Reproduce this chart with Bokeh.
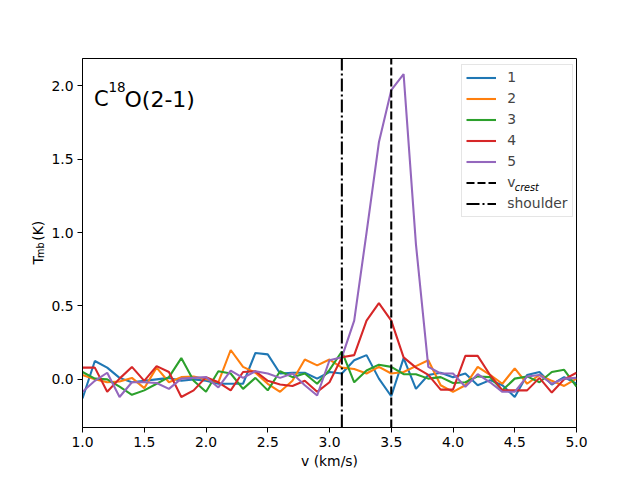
import math
from bokeh.plotting import figure
from bokeh.layouts import row
from bokeh.models import Range1d, FixedTicker, PrintfTickFormatter, Legend, LegendItem, Label
from bokeh.embed import file_html
from bokeh.resources import INLINE

# ---- data ----
velocity = [1.0, 1.1, 1.2, 1.3, 1.4, 1.5, 1.6, 1.7, 1.8, 1.9,
            2.0, 2.1, 2.2, 2.3, 2.4, 2.5, 2.6, 2.7, 2.8, 2.9,
            3.0, 3.1, 3.2, 3.3, 3.4, 3.5, 3.6, 3.7, 3.8, 3.9,
            4.0, 4.1, 4.2, 4.3, 4.4, 4.5, 4.6, 4.7, 4.8, 4.9, 5.0]

spec1 = [-0.13, 0.125, 0.08, 0.01, -0.02, -0.01, 0.0, 0.01, -0.01, 0.0,
         -0.01, -0.03, -0.03, -0.03, 0.18, 0.17, 0.04, 0.045, 0.045, 0.005,
         0.05, 0.04, 0.13, 0.165, 0.005, -0.115, 0.145, -0.065, 0.03, 0.045,
         0.015, 0.04, -0.04, -0.005, -0.04, -0.12, 0.03, 0.05, -0.035, 0.015, -0.03]
spec2 = [0.03, 0.0, -0.02, -0.015, 0.01, -0.06, 0.08, -0.02, 0.015, 0.02,
         0.0, -0.02, 0.2, 0.085, 0.045, -0.03, -0.085, -0.01, 0.135, 0.095,
         0.135, 0.08, 0.07, 0.04, 0.085, 0.04, 0.05, 0.09, 0.13, -0.04,
         -0.085, -0.04, 0.085, 0.03, -0.03, 0.075, -0.03, 0.03, -0.01, -0.045, 0.005]
spec3 = [0.05, 0.005, 0.0, -0.05, -0.105, -0.075, -0.03, 0.015, 0.145, -0.01,
         -0.085, 0.055, 0.04, -0.065, 0.01, -0.075, 0.055, 0.015, 0.04, -0.03,
         0.065, 0.19, -0.02, 0.06, 0.10, 0.085, 0.035, 0.035, 0.005, 0.015,
         -0.025, -0.02, 0.02, 0.015, -0.075, 0.005, 0.02, -0.02, 0.05, 0.065, -0.05]
spec4 = [0.08, 0.08, -0.085, 0.005, 0.085, -0.01, 0.09, 0.05, -0.12, -0.075,
         0.015, -0.02, -0.075, 0.05, 0.055, -0.01, -0.035, -0.045, -0.01, -0.085,
         -0.02, 0.15, 0.165, 0.40, 0.52, 0.40, 0.15, 0.08, 0.03, -0.07,
         -0.07, 0.16, 0.16, 0.03, -0.075, -0.075, -0.075, 0.01, -0.09, 0.0, 0.045]
spec5 = [-0.085, -0.01, 0.045, -0.12, -0.02, -0.02, -0.025, -0.065, 0.005, 0.01,
         0.015, -0.055, 0.06, 0.01, 0.055, 0.04, 0.01, 0.04, -0.04, -0.11,
         0.13, 0.15, 0.40, 1.0, 1.615, 1.97, 2.08, 0.92, 0.085, 0.04,
         0.04, -0.05, 0.035, -0.02, -0.085, -0.085, 0.02, 0.03, -0.03, 0.005, 0.01]

series_names = ["1", "2", "3", "4", "5"]
series_colors = ["#1f77b4", "#ff7f0e", "#2ca02c", "#d62728", "#9467bd"]
v_crest = 3.5
v_shoulder = 3.1

x_ticks = [1.0, 1.5, 2.0, 2.5, 3.0, 3.5, 4.0, 4.5, 5.0]
y_ticks = [0.0, 0.5, 1.0, 1.5, 2.0]
x_lim = (1.0, 5.0)
y_lim = (-0.328, 2.186)

FONT = "DejaVu Sans"
W, H = 640, 480
LEFT_W = 48

# ---- left strip holding the y-axis title T_mb (K) ----
lab = figure(width=LEFT_W, height=H, output_backend="svg", toolbar_location=None,
             x_range=Range1d(0, LEFT_W), y_range=Range1d(0, H),
             x_axis_location=None, y_axis_location=None, min_border=0)
lab.grid.visible = False
lab.outline_line_color = None
lab.background_fill_color = "white"
lab.border_fill_color = "white"
lab.add_layout(Label(x=37.3, y=212, text="T", angle=math.pi / 2, text_font=FONT,
                     text_font_size="13.9px", text_baseline="alphabetic", text_color="black"))
lab.add_layout(Label(x=40.0, y=220.5, text="mb", angle=math.pi / 2, text_font=FONT,
                     text_font_size="9.7px", text_baseline="alphabetic", text_color="black"))
lab.add_layout(Label(x=37.3, y=243.0, text="(K)", angle=math.pi / 2, text_font=FONT,
                     text_font_size="13.9px", text_baseline="alphabetic", text_color="black"))

# ---- main plot ----
p = figure(width=W - LEFT_W, height=H, output_backend="svg", toolbar_location=None,
           x_range=Range1d(*x_lim), y_range=Range1d(*y_lim),
           min_border_left=80 - LEFT_W, min_border_right=64, min_border_top=58, min_border_bottom=53)
p.grid.visible = False
p.outline_line_color = "black"
p.outline_line_width = 1
p.background_fill_color = "white"
p.border_fill_color = "white"

for ax, ticks in ((p.xaxis, x_ticks), (p.yaxis, y_ticks)):
    ax.ticker = FixedTicker(ticks=ticks)
    ax.formatter = PrintfTickFormatter(format="%.1f")
    ax.major_label_text_font = FONT
    ax.major_label_text_font_size = "13.9px"
    ax.major_label_text_color = "black"
    ax.major_tick_out = 5
    ax.major_tick_in = 0
    ax.minor_tick_out = 0
    ax.minor_tick_in = 0
    ax.axis_line_color = "black"
    ax.major_tick_line_color = "black"
    ax.major_label_standoff = 4

p.xaxis.axis_label = "v (km/s)"
p.xaxis.axis_label_text_font = FONT
p.xaxis.axis_label_text_font_size = "13.9px"
p.xaxis.axis_label_text_font_style = "normal"
p.xaxis.axis_label_text_color = "black"
p.xaxis.axis_label_standoff = 3

all_specs = [spec1, spec2, spec3, spec4, spec5]
items = []
for name, color, spec in zip(series_names, series_colors, all_specs):
    r = p.line(velocity, spec, line_color=color, line_width=2.08)
    items.append(LegendItem(label=name, renderers=[r]))

r_crest = p.ray(x=[v_crest], y=[y_lim[0]], length=0, angle=90, angle_units="deg",
                line_color="black", line_width=2.08, line_dash="8 3")
r_sh = p.ray(x=[v_shoulder], y=[y_lim[0]], length=0, angle=90, angle_units="deg",
             line_color="black", line_width=2.08, line_dash="13 3 2 3")
items.append(LegendItem(label="v", renderers=[r_crest]))
items.append(LegendItem(label="shoulder", renderers=[r_sh]))

legend = Legend(items=items, location=(379.3, 210.3), margin=0, padding=4,
                spacing=4, glyph_width=30, glyph_height=17, label_height=17,
                label_standoff=11, label_text_font=FONT, label_text_font_size="13.9px",
                border_line_color="#cccccc", border_line_width=1,
                background_fill_color="white", background_fill_alpha=0.0)
p.add_layout(legend)

# subscript of v_crest in legend
p.add_layout(Label(x=432.3, y=240.5, x_units="screen", y_units="screen", text="crest",
                   text_font=FONT, text_font_size="9.7px", text_font_style="italic",
                   text_baseline="alphabetic", text_align="left", text_color="black",
                   level="overlay"))

# panel title C^18O(2-1)
title_parts = [("C", 11.6, 328.5, "21px"), ("18", 26.0, 340.2, "13.5px"),
               ("O(2-1)", 42.0, 328.5, "22px")]
for txt, sx, sy, fs in title_parts:
    p.add_layout(Label(x=sx, y=sy, x_units="screen", y_units="screen", text=txt,
                       text_font=FONT, text_font_size=fs, text_baseline="alphabetic",
                       text_color="black"))

layout = row(lab, p, spacing=0)
open("out.html", "w").write(file_html(layout, INLINE))
